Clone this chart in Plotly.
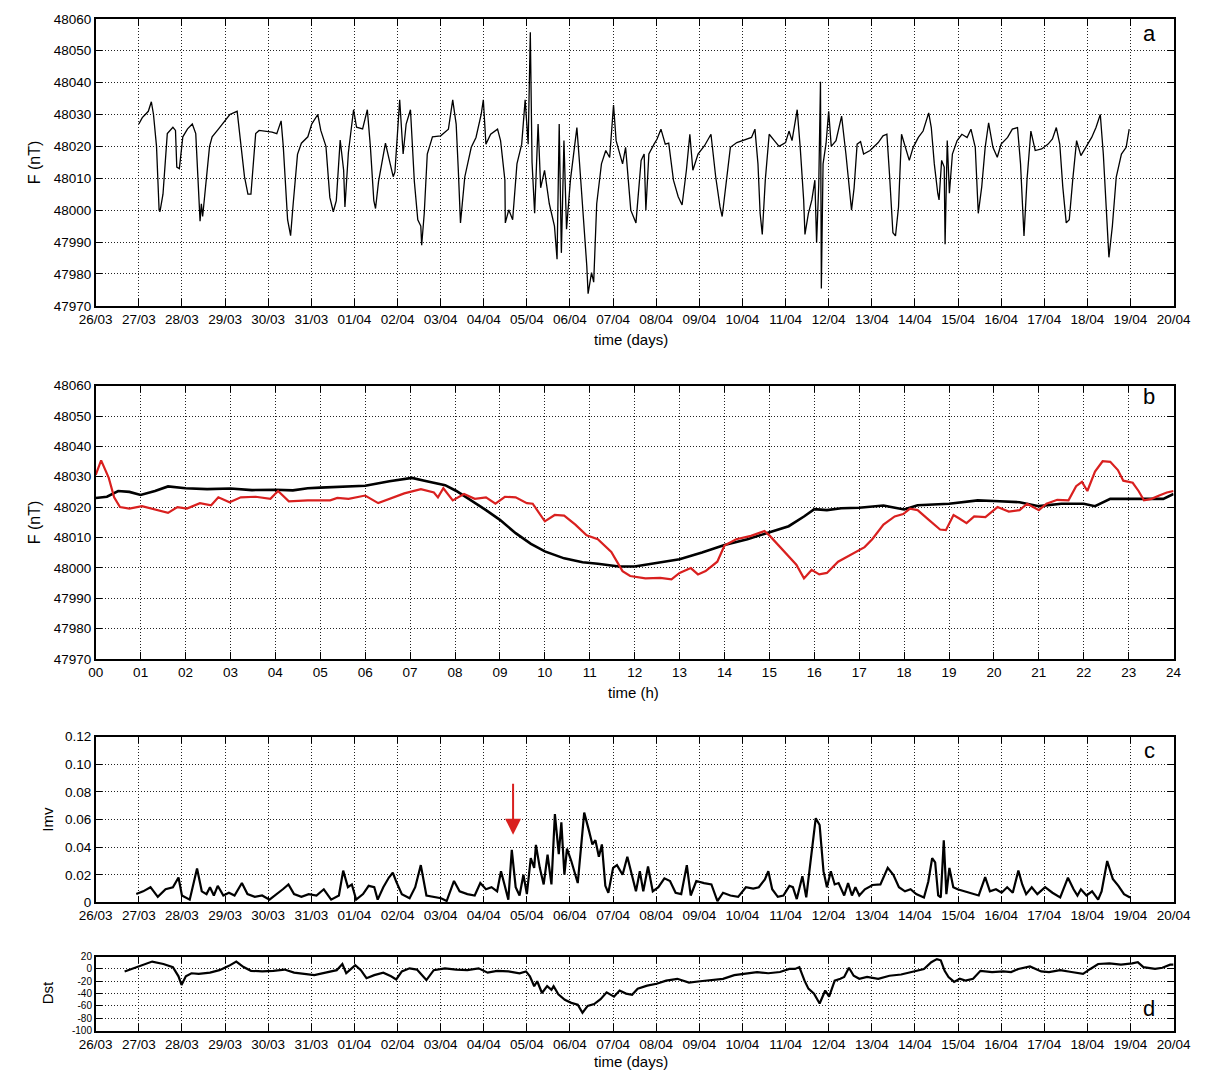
import plotly.graph_objects as go

# ---------------- tick labels ----------------
day_labels = ["26/03", "27/03", "28/03", "29/03", "30/03", "31/03", "01/04", "02/04",
              "03/04", "04/04", "05/04", "06/04", "07/04", "08/04", "09/04", "10/04",
              "11/04", "12/04", "13/04", "14/04", "15/04", "16/04", "17/04", "18/04",
              "19/04", "20/04"]
hour_labels = ["00", "01", "02", "03", "04", "05", "06", "07", "08", "09", "10", "11", "12",
               "13", "14", "15", "16", "17", "18", "19", "20", "21", "22", "23", "24"]
F_ticks = [47970, 47980, 47990, 48000, 48010, 48020, 48030, 48040, 48050, 48060]
imv_ticks = [0, 0.02, 0.04, 0.06, 0.08, 0.10, 0.12]
imv_labels = ["0", "0.02", "0.04", "0.06", "0.08", "0.10", "0.12"]
dst_ticks = [-100, -80, -60, -40, -20, 0, 20]
dst_labels = ["-100", "-80", "-60", "-40", "-20", "0", "20"]

# ---------------- panel a: F (nT) vs days since 26/03 ----------------
a_day = [1.00, 1.08, 1.15, 1.22, 1.29, 1.34, 1.41, 1.47, 1.49, 1.56, 1.66, 1.79, 1.85, 1.88, 1.94,
         2.02, 2.13, 2.24, 2.32, 2.40, 2.42, 2.45, 2.48, 2.64, 2.70, 2.85, 3.00, 3.11, 3.28, 3.38,
         3.45, 3.53, 3.60, 3.71, 3.79, 4.09, 4.20, 4.30, 4.35, 4.45, 4.52, 4.58, 4.68, 4.77, 4.92,
         5.01, 5.15, 5.22, 5.34, 5.43, 5.51, 5.58, 5.67, 5.75, 5.78, 5.86, 5.98, 6.05, 6.19, 6.30,
         6.37, 6.45, 6.49, 6.56, 6.68, 6.72, 6.83, 6.90, 6.94, 7.02, 7.05, 7.13, 7.20, 7.30, 7.39,
         7.47, 7.54, 7.56, 7.62, 7.69, 7.81, 8.00, 8.18, 8.28, 8.36, 8.41, 8.46, 8.56, 8.71, 8.82,
         8.94, 8.99, 9.05, 9.16, 9.32, 9.39, 9.49, 9.50, 9.58, 9.67, 9.77, 9.88, 9.96, 10.03, 10.08,
         10.12, 10.18, 10.26, 10.32, 10.41, 10.52, 10.64, 10.70, 10.75, 10.80, 10.86, 10.92, 11.01,
         11.16, 11.22, 11.31, 11.39, 11.42, 11.50, 11.55, 11.62, 11.73, 11.83, 11.92, 12.01, 12.07,
         12.22, 12.29, 12.41, 12.50, 12.53, 12.65, 12.72, 12.76, 12.83, 12.95, 13.02, 13.11, 13.21,
         13.29, 13.40, 13.51, 13.60, 13.70, 13.78, 13.85, 13.97, 14.12, 14.27, 14.38, 14.48, 14.53,
         14.61, 14.72, 14.87, 15.02, 15.21, 15.29, 15.36, 15.41, 15.46, 15.53, 15.62, 15.74, 15.85,
         16.00, 16.08, 16.15, 16.27, 16.34, 16.42, 16.45, 16.53, 16.61, 16.68, 16.72, 16.77, 16.81,
         16.83, 16.87, 16.94, 17.00, 17.06, 17.17, 17.30, 17.40, 17.47, 17.53, 17.59, 17.66, 17.74,
         17.81, 17.96, 18.15, 18.26, 18.35, 18.41, 18.49, 18.55, 18.62, 18.69, 18.77, 18.87, 18.96,
         19.08, 19.19, 19.32, 19.38, 19.45, 19.53, 19.56, 19.62, 19.68, 19.70, 19.75, 19.80, 19.87,
         19.98, 20.09, 20.21, 20.30, 20.40, 20.47, 20.55, 20.63, 20.71, 20.81, 20.91, 21.00, 21.15,
         21.26, 21.38, 21.45, 21.53, 21.60, 21.69, 21.79, 21.94, 22.09, 22.19, 22.28, 22.36, 22.43,
         22.51, 22.58, 22.66, 22.75, 22.85, 22.96, 23.10, 23.20, 23.30, 23.37, 23.45, 23.50, 23.58,
         23.67, 23.79, 23.90, 23.97]
a_F = [48027, 48029, 48030, 48031, 48034, 48030, 48020, 48000, 47999.5, 48005, 48024, 48026, 48025,
       48013.5, 48013, 48023, 48025.5, 48027, 48024, 47999, 47996.5, 48002, 47998, 48020, 48023,
       48025.5, 48028, 48030, 48031, 48020, 48010.5, 48005, 48005, 48024, 48025, 48024.5, 48024,
       48028, 48020, 47997, 47992, 48002, 48017.5, 48021, 48023, 48027, 48030, 48025, 48020, 48004,
       47999.5, 48003, 48022, 48012.5, 48001, 48018, 48031.5, 48026, 48025.5, 48031.5, 48020, 48003,
       48000.5, 48009, 48017.5, 48021, 48014.5, 48010.5, 48012, 48030, 48034.6, 48017.6, 48027,
       48031.5, 48009, 47997, 47995, 47989, 47999, 48017.6, 48023, 48023.3, 48025.4, 48034.6, 48027,
       48012.5, 47996, 48010.4, 48019.7, 48022.8, 48030, 48034.6, 48020.7, 48023.8, 48025.4, 48021.8,
       48009.4, 47996, 48000.1, 47997, 48014.5, 48020.7, 48034.6, 48020.7, 48055.8, 48015, 47999,
       48027, 48007, 48012.5, 48002, 47995, 47984.6, 48027, 47986.6, 48021.8, 47994, 48009.4,
       48025.9, 48015, 47999, 47982.5, 47973.8, 47980.4, 47977.4, 48002, 48014.5, 48018.7, 48016.5,
       48033, 48021.8, 48014.5, 48019.7, 48000, 47997, 47996, 48015.6, 48017.6, 48000, 48017.6,
       48020.7, 48022.3, 48025.4, 48020.7, 48021, 48009.4, 48004.2, 48001.6, 48012.5, 48023.8,
       48012.5, 48017.6, 48020.2, 48023.8, 48010.4, 48001, 47998, 48007.3, 48019.7, 48021.2,
       48021.8, 48022.8, 48025.4, 48014.5, 47999, 47992.4, 48009.4, 48023.8, 48021.8, 48020,
       48021.2, 48024.8, 48021.8, 48031.5, 48019.7, 48003.2, 47992.4, 47999, 48003.2, 48009.4,
       47989.8, 48008, 48040.3, 47975.4, 48014.5, 48021, 48031, 48020, 48021.8, 48029.5, 48017.6,
       48007.3, 48000, 48007, 48020.7, 48021.5, 48017.6, 48018.7, 48021.2, 48023.3, 48023.8,
       48011.4, 47992.9, 47991.9, 48001, 48023.8, 48020.2, 48015.6, 48019.7, 48022.8, 48024.8,
       48030.5, 48025.9, 48014.5, 48005.3, 48003.2, 48015.6, 48013.5, 47989.3, 48021.8, 48005.3,
       48017.6, 48021.8, 48023.8, 48022.8, 48025.4, 48019.7, 47999, 48007.3, 48019.7, 48027.4,
       48019.7, 48016.6, 48020.7, 48022.8, 48025.4, 48025.9, 48014.5, 47991.9, 48009.4, 48024.8,
       48018.7, 48019.2, 48020.7, 48022.3, 48025.9, 48020.7, 48007.3, 47996, 47997, 48009.4,
       48021.8, 48017.1, 48019.7, 48022.8, 48025.9, 48030, 48017.6, 47997, 47985.2, 47995, 48010.4,
       48017.6, 48019.7, 48025.4]

# ---------------- panel b: F (nT) vs hour ----------------
b_hour_black = [0, 0.25, 0.5, 0.75, 1.0, 1.32, 1.61, 2.0, 2.48, 3.0, 3.48, 4.0, 4.39, 4.72, 5.0,
                5.5, 6.0, 6.54, 7.04, 7.37, 7.78, 8.03, 8.36, 8.69, 9.0, 9.35, 9.69, 10.0, 10.43,
                10.84, 11.18, 11.65, 12.0, 12.49, 13.0, 13.5, 14.0, 14.51, 15.0, 15.43, 15.77, 16.0,
                16.28, 16.6, 17.0, 17.54, 18.0, 18.3, 19.0, 19.64, 20.0, 20.57, 21.0, 21.5, 22.0,
                22.25, 22.59, 23.01, 23.43, 23.77, 24.0]
b_F_black = [48023, 48023.4, 48025.3, 48025, 48024, 48025.3, 48026.8, 48026.2, 48025.9, 48026.1,
             48025.6, 48025.7, 48025.5, 48026.2, 48026.4, 48026.6, 48027, 48028.5, 48029.6,
             48028.5, 48027.2, 48025.3, 48022.2, 48019, 48015.8, 48011.4, 48007.9, 48005.4,
             48003.1, 48001.8, 48001.3, 48000.4, 48000.4, 48001.5, 48002.8, 48005, 48007.5,
             48009.4, 48011.6, 48013.7, 48016.9, 48019.3, 48019.0, 48019.6, 48019.8, 48020.5,
             48019.2, 48020.6, 48021.1, 48022.2, 48022.0, 48021.6, 48020.3, 48021.1, 48021.1,
             48020.3, 48022.7, 48022.7, 48022.6, 48022.7, 48024.3]
b_hour_red = [0, 0.12, 0.29, 0.41, 0.54, 0.75, 1.03, 1.32, 1.61, 1.82, 2.03, 2.32, 2.57, 2.73,
              2.98, 3.23, 3.56, 3.89, 4.06, 4.30, 4.72, 5.22, 5.38, 5.63, 6.0, 6.29, 6.54, 6.87,
              7.24, 7.53, 7.62, 7.74, 7.95, 8.2, 8.44, 8.69, 8.9, 9.11, 9.35, 9.6, 9.73, 10.0,
              10.22, 10.43, 10.68, 10.93, 11.18, 11.48, 11.73, 11.9, 12.24, 12.57, 12.82, 13.0,
              13.25, 13.41, 13.58, 13.84, 14.0, 14.26, 14.59, 14.89, 15.01, 15.35, 15.6, 15.77,
              15.94, 16.11, 16.28, 16.53, 16.87, 17.12, 17.29, 17.54, 17.79, 17.98, 18.13, 18.3,
              18.55, 18.8, 18.93, 19.1, 19.22, 19.39, 19.56, 19.81, 20.08, 20.33, 20.57, 20.74,
              21.0, 21.17, 21.41, 21.66, 21.83, 21.96, 22.08, 22.25, 22.42, 22.59, 22.76, 22.88,
              23.09, 23.22, 23.34, 23.51, 23.68, 23.85, 24.0]
b_F_red = [48030.6, 48035.4, 48029.6, 48023.2, 48020, 48019.5, 48020.3, 48019.3, 48018.1, 48020,
           48019.5, 48021.3, 48020.6, 48023.2, 48021.6, 48023.2, 48023.4, 48022.7, 48025.3,
           48021.9, 48022.2, 48022.2, 48023.0, 48022.7, 48023.8, 48021.3, 48022.7, 48024.5,
           48025.9, 48024.8, 48023.2, 48026.2, 48022.2, 48024.3, 48022.7, 48023.2, 48021.1,
           48023.4, 48023.2, 48021.3, 48021.1, 48015.3, 48017.4, 48017.2, 48014.2, 48010.7,
           48009.4, 48005.2, 47998.9, 47997.3, 47996.5, 47996.7, 47996.2, 47998.3, 47999.9,
           47997.8, 47998.9, 48002, 48007.3, 48009.4, 48010.5, 48012.1, 48010.5, 48005.2,
           48001, 47996.5, 47999.3, 47997.8, 47998.3, 48002, 48004.7, 48006.8, 48009.4,
           48014.2, 48016.9, 48017.7, 48019.5, 48019.0, 48015.8, 48012.6, 48012.4, 48017.4,
           48016.3, 48014.7, 48016.9, 48016.7, 48020, 48018.5, 48019.0, 48021.1, 48019.0,
           48021.1, 48022.4, 48022.2, 48026.9, 48028.3, 48025.3, 48031.7, 48035.1, 48034.9,
           48032.2, 48028.7, 48028, 48025.3, 48022.2, 48022.7, 48023.8, 48024.8, 48025.3]

# ---------------- panel c: Imv vs days ----------------
c_day = [0.94, 1.10, 1.27, 1.44, 1.62, 1.79, 1.92, 2.00, 2.18, 2.35, 2.46, 2.57, 2.65, 2.74, 2.83,
         2.96, 3.09, 3.22, 3.39, 3.52, 3.69, 3.86, 4.03, 4.21, 4.34, 4.47, 4.60, 4.77, 4.94, 5.12,
         5.29, 5.46, 5.64, 5.74, 5.85, 5.94, 6.04, 6.20, 6.33, 6.46, 6.54, 6.67, 6.80, 6.89, 6.97,
         7.10, 7.28, 7.41, 7.54, 7.67, 7.84, 8.01, 8.14, 8.31, 8.44, 8.62, 8.79, 8.92, 9.05, 9.18,
         9.31, 9.40, 9.48, 9.57, 9.65, 9.74, 9.83, 9.92, 10.00, 10.09, 10.17, 10.21, 10.30, 10.39,
         10.48, 10.57, 10.65, 10.74, 10.80, 10.87, 10.93, 11.03, 11.18, 11.33, 11.44, 11.52, 11.59,
         11.67, 11.74, 11.82, 11.89, 12.00, 12.09, 12.22, 12.33, 12.44, 12.53, 12.62, 12.70, 12.81,
         12.92, 13.05, 13.19, 13.32, 13.45, 13.58, 13.71, 13.80, 13.93, 14.11, 14.28, 14.42, 14.55,
         14.72, 14.90, 15.08, 15.25, 15.38, 15.52, 15.60, 15.69, 15.82, 15.95, 16.09, 16.17, 16.26,
         16.39, 16.48, 16.61, 16.70, 16.79, 16.88, 16.96, 17.05, 17.14, 17.23, 17.36, 17.45, 17.54,
         17.62, 17.71, 17.84, 18.02, 18.20, 18.37, 18.50, 18.63, 18.77, 18.90, 19.03, 19.21, 19.31,
         19.40, 19.47, 19.54, 19.60, 19.67, 19.73, 19.80, 19.89, 19.99, 20.17, 20.35, 20.48, 20.63,
         20.74, 20.88, 21.01, 21.14, 21.27, 21.40, 21.49, 21.58, 21.71, 21.84, 22.02, 22.19, 22.37,
         22.55, 22.68, 22.77, 22.85, 22.98, 23.11, 23.25, 23.33, 23.46, 23.59, 23.72, 23.85, 23.99]
c_imv = [0.006, 0.008, 0.011, 0.004, 0.0095, 0.011, 0.018, 0.005, 0.002, 0.0245, 0.008, 0.006,
         0.011, 0.005, 0.012, 0.005, 0.007, 0.005, 0.014, 0.006, 0.004, 0.005, 0.002, 0.006, 0.0095,
         0.013, 0.006, 0.004, 0.006, 0.005, 0.0095, 0.002, 0.005, 0.023, 0.011, 0.013, 0.002, 0.006,
         0.012, 0.011, 0.002, 0.011, 0.018, 0.0215, 0.015, 0.006, 0.003, 0.011, 0.027, 0.005, 0.004,
         0.003, 0.001, 0.0155, 0.008, 0.006, 0.005, 0.014, 0.0095, 0.011, 0.008, 0.0225, 0.013,
         0.002, 0.038, 0.011, 0.005, 0.02, 0.006, 0.032, 0.025, 0.0417, 0.025, 0.013, 0.0345, 0.013,
         0.064, 0.035, 0.058, 0.02, 0.039, 0.03, 0.014, 0.065, 0.052, 0.042, 0.045, 0.033, 0.042,
         0.012, 0.007, 0.025, 0.027, 0.02, 0.033, 0.018, 0.008, 0.0226, 0.008, 0.026, 0.008, 0.011,
         0.0174, 0.0155, 0.007, 0.006, 0.027, 0.005, 0.0155, 0.014, 0.013, 0.001, 0.007, 0.005,
         0.004, 0.011, 0.010, 0.011, 0.0167, 0.0226, 0.0095, 0.004, 0.005, 0.012, 0.011, 0.0024,
         0.019, 0.0036, 0.039, 0.061, 0.056, 0.0226, 0.011, 0.0226, 0.013, 0.014, 0.005, 0.014,
         0.005, 0.011, 0.005, 0.0095, 0.0126, 0.013, 0.025, 0.02, 0.011, 0.008, 0.0095, 0.006,
         0.0036, 0.015, 0.032, 0.029, 0.005, 0.0036, 0.045, 0.006, 0.025, 0.011, 0.0095, 0.008,
         0.006, 0.005, 0.0183, 0.008, 0.0095, 0.007, 0.011, 0.007, 0.023, 0.013, 0.006, 0.011,
         0.006, 0.011, 0.007, 0.0036, 0.0179, 0.0095, 0.005, 0.0095, 0.005, 0.008, 0.002, 0.008,
         0.03, 0.017, 0.012, 0.006, 0.0036]

# ---------------- panel d: Dst vs days ----------------
d_day = [0.67, 0.84, 1.10, 1.31, 1.57, 1.79, 1.92, 1.99, 2.09, 2.22, 2.39, 2.65, 2.87, 3.09, 3.26,
         3.43, 3.60, 3.86, 4.12, 4.38, 4.60, 4.81, 5.07, 5.33, 5.59, 5.72, 5.81, 5.89, 6.02, 6.15,
         6.28, 6.46, 6.67, 6.85, 6.97, 7.10, 7.28, 7.45, 7.58, 7.67, 7.84, 8.10, 8.36, 8.62, 8.88,
         9.09, 9.31, 9.57, 9.83, 9.98, 10.07, 10.17, 10.24, 10.35, 10.47, 10.57, 10.62, 10.73, 10.88,
         11.03, 11.18, 11.29, 11.41, 11.56, 11.71, 11.85, 12.02, 12.15, 12.30, 12.44, 12.57, 12.79,
         13.01, 13.23, 13.49, 13.76, 14.02, 14.28, 14.55, 14.81, 15.03, 15.34, 15.60, 15.87, 16.09,
         16.22, 16.32, 16.44, 16.53, 16.66, 16.79, 16.92, 17.01, 17.14, 17.27, 17.36, 17.47, 17.58,
         17.71, 17.89, 18.15, 18.41, 18.68, 18.94, 19.21, 19.38, 19.51, 19.60, 19.69, 19.78, 19.91,
         20.04, 20.17, 20.35, 20.52, 20.79, 21.05, 21.23, 21.40, 21.67, 21.93, 22.11, 22.37, 22.63,
         22.90, 23.07, 23.25, 23.51, 23.78, 24.04, 24.17, 24.30, 24.57, 24.74, 24.92, 25.00]
d_dst = [-4, 0, 6, 12, 8, 3, -12, -26, -12, -7, -8, -6, -2, 5, 12, 3, -3, -4, -3, -1, -6, -8, -10,
         -6, -2, 8, -7, -2, 6, -2, -15, -10, -6, -12, -17, -4, 1, -1, -12, -18, -2, 1, -1, -2, 1,
         -6, -3, -4, -7, -4, -12, -28, -20, -39, -28, -34, -28, -41, -50, -55, -58, -71, -60, -57,
         -49, -38, -45, -35, -40, -42, -32, -27, -24, -19, -16, -22, -20, -18, -16, -10, -8, -5,
         -7, -5, 0, 0, 3, -19, -32, -40, -56, -35, -45, -19, -16, -13, 2, -11, -16, -13, -16, -11,
         -9, -5, 0, 11, 16, 14, -3, -13, -21, -16, -19, -16, -3, -5, -4, -5, 0, 4, -4, -5, -2, -5,
         -8, 0, 8, 9, 7, 9, 11, 3, 0, 2, 7, 7]

# ---------------- layout helpers (pixel geometry) ----------------
W, H = 1211, 1080
FONT = "Arial, Liberation Sans, Helvetica, sans-serif"


def px_x(px):
    return px / W


def px_y(py):
    return 1 - py / H


X_DOM = [px_x(81), px_x(1190)]
panels = {
    "a": (12, 303),
    "b": (384, 661),
    "c": (740, 908),
    "d": (963, 1038),
}

fig = go.Figure()
fig.add_trace(go.Scatter(x=a_day, y=a_F, mode="lines", line=dict(color="black", width=1.3),
                         xaxis="x", yaxis="y"))
fig.add_trace(go.Scatter(x=b_hour_black, y=b_F_black, mode="lines",
                         line=dict(color="black", width=2.6), xaxis="x2", yaxis="y2"))
fig.add_trace(go.Scatter(x=b_hour_red, y=b_F_red, mode="lines",
                         line=dict(color="#d9201f", width=2.2), xaxis="x2", yaxis="y2"))
fig.add_trace(go.Scatter(x=c_day, y=c_imv, mode="lines", line=dict(color="black", width=2.2),
                         xaxis="x3", yaxis="y3"))
fig.add_trace(go.Scatter(x=d_day, y=d_dst, mode="lines", line=dict(color="black", width=2.2),
                         xaxis="x4", yaxis="y4"))

tickfont = dict(family=FONT, size=13.5, color="black")
small_tickfont = dict(family=FONT, size=10, color="black")
GRID_DASH = "1px,2px"


def xax(rng, tv, tt, anchor):
    return dict(domain=X_DOM, range=rng, tickvals=tv, ticktext=tt, anchor=anchor,
                showline=True, linecolor="black", linewidth=1.5, mirror="ticks",
                ticks="inside", ticklen=7, tickwidth=1.3, tickcolor="black",
                showgrid=True, gridcolor="#222222", gridwidth=1, griddash=GRID_DASH,
                zeroline=False, tickfont=tickfont, fixedrange=True)


def yax(rng, tv, tt, anchor, dom, font=tickfont):
    return dict(domain=dom, range=rng, tickvals=tv, ticktext=tt, anchor=anchor,
                showline=True, linecolor="black", linewidth=1.5, mirror="ticks",
                ticks="inside", ticklen=7, tickwidth=1.3, tickcolor="black",
                showgrid=True, gridcolor="#222222", gridwidth=1, griddash=GRID_DASH,
                zeroline=False, tickfont=font, fixedrange=True)


days = list(range(len(day_labels)))
hours = list(range(len(hour_labels)))
F_labels = [str(v) for v in F_ticks]


def ydom(key):
    top, bot = panels[key]
    return [px_y(bot), px_y(top)]


fig.update_layout(
    width=W, height=H, margin=dict(l=0, r=0, t=0, b=0),
    paper_bgcolor="white", plot_bgcolor="white", showlegend=False,
    xaxis=xax([0, 25], days, day_labels, "y"),
    yaxis=yax([47970, 48060], F_ticks, F_labels, "x", ydom("a")),
    xaxis2=xax([0, 24], hours, hour_labels, "y2"),
    yaxis2=yax([47970, 48060], F_ticks, F_labels, "x2", ydom("b")),
    xaxis3=xax([0, 25], days, day_labels, "y3"),
    yaxis3=yax([0, 0.12], imv_ticks, imv_labels, "x3", ydom("c")),
    xaxis4=xax([0, 25], days, day_labels, "y4"),
    yaxis4=yax([-100, 20], dst_ticks, dst_labels, "x4", ydom("d"), small_tickfont),
)

ann = []


def text(t, x, y, size, angle=0):
    ann.append(dict(text=t, x=px_x(x), y=px_y(y), xref="paper", yref="paper", showarrow=False,
                    textangle=angle, xanchor="center", yanchor="middle",
                    font=dict(family=FONT, size=size, color="black")))


text("time (days)", 632, 337, 15)
text("time (h)", 634, 695, 15)
text("time (days)", 632, 1069, 15)
text("F (nT)", 18, 157, 16, -90)
text("F (nT)", 18, 522, 16, -90)
text("Imv", 31, 824, 15, -90)
text("Dst", 31, 1000, 15, -90)
text("a", 1165, 27, 22)
text("b", 1165, 395, 22)
text("c", 1165, 754, 22)
text("d", 1165, 1016, 22)

# red arrow in panel c
ann.append(dict(x=9.68, y=0.049, ax=9.68, ay=0.087, xref="x3", yref="y3", axref="x3",
                ayref="y3", showarrow=True, arrowcolor="#d9201f", arrowwidth=2,
                arrowhead=2, arrowsize=1.6, text=""))

fig.update_layout(annotations=ann)
fig.write_html("out.html")
